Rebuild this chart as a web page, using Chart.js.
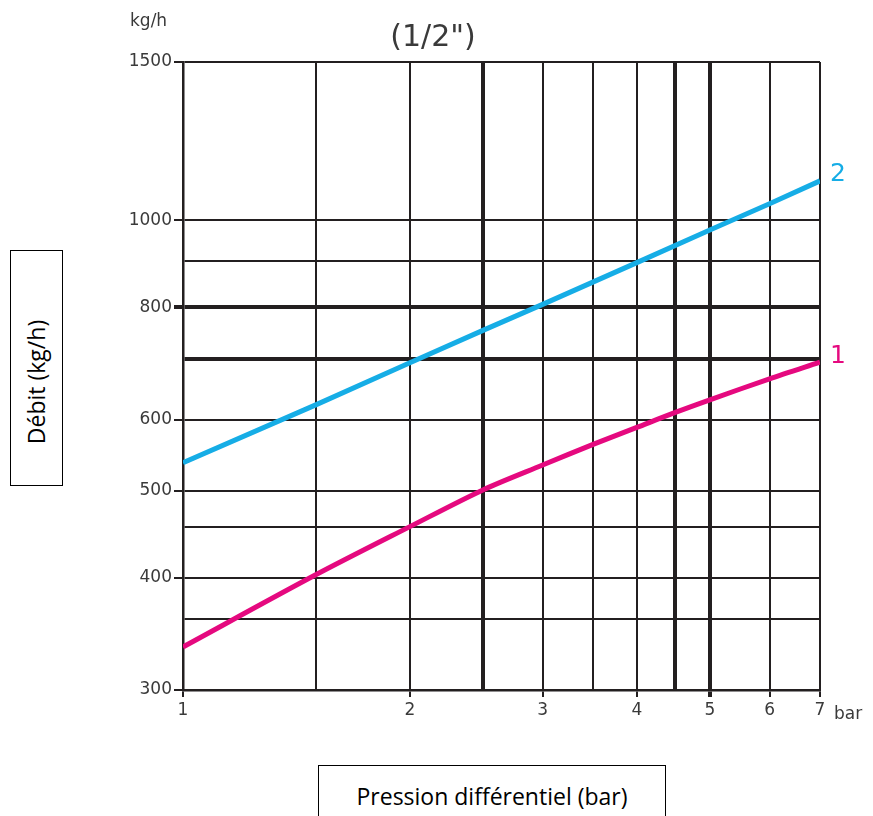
<!DOCTYPE html>
<html>
<head>
<meta charset="utf-8">
<script src="https://cdn.jsdelivr.net/npm/chart.js@4/dist/chart.umd.min.js"></script>
<style>
    body { margin: 0; background: #fff; }
    #wrap { position: relative; width: 873px; height: 816px; overflow: hidden; }
    #chart { position: absolute; left: 0; top: 0; }
    .axis-box {
        position: absolute;
        border: 1px solid #000;
        background: #fff;
        font-family: 'Open Sans', 'Noto Sans', sans-serif;
        color: #000;
        display: flex;
        align-items: center;
        justify-content: center;
    }
    #yBox { left: 10px; top: 250px; width: 51px; height: 234px; }
    #yBox span { transform: translateY(14px) rotate(-90deg); white-space: nowrap; font-size: 23px; }
    #xBox { left: 318px; top: 765px; width: 346px; height: 70px; align-items: flex-start; }
    #xBox span { margin-top: 14px; font-size: 23px; white-space: nowrap; }
</style>
</head>
<body>
<div id="wrap">
    <canvas id="chart" width="873" height="816"></canvas>
    <div class="axis-box" id="yBox"><span>Débit (kg/h)</span></div>
    <div class="axis-box" id="xBox"><span>Pression différentiel (bar)</span></div>
</div>
<script>
// Grid / tick values (log-log chart)
const pressureTicks = [1, 1.5, 2, 2.5, 3, 3.5, 4, 4.5, 5, 6, 7];
const pressureLabels = [1, 2, 3, 4, 5, 6, 7];
const flowTicks = [300, 360, 400, 455, 500, 600, 700, 800, 900, 1000, 1500];
const flowLabels = [300, 400, 500, 600, 800, 1000, 1500];

// Curve 1 (magenta)
const curve1Pressure = [1, 1.5, 2, 2.5, 3, 3.5, 4, 4.5, 5, 6, 7];
const curve1Flow = [335, 403, 456, 501, 534, 563, 588, 611, 631, 666, 695];

// Curve 2 (blue)
const curve2Pressure = [1, 1.5, 2, 2.5, 3, 4, 5, 6, 7];
const curve2Flow = [537, 623, 694, 754, 806, 897, 975, 1043, 1106];

const curveNames = ['1', '2'];

// styling
const boldPressure = [2.5, 4.5, 5];
const boldFlow = [700, 800];
const gridColor = '#231f20';
const textColor = '#3a3a3a';
const chartFont = "'DejaVu Sans', sans-serif";

/** Zips two arrays into {x, y} points. */
function toPoints(xs, ys) {
    return xs.map((x, i) => ({ x: x, y: ys[i] }));
}

// Draws units, title and the curve numbers
const annotations = {
    id: 'annotations',
    afterDraw(chart) {
        const ctx = chart.ctx;
        const area = chart.chartArea;
        ctx.save();
        ctx.fillStyle = textColor;
        ctx.textBaseline = 'alphabetic';
        ctx.font = '17px ' + chartFont;
        ctx.textAlign = 'left';
        ctx.fillText('kg/h', area.left - 53, area.top - 36);
        ctx.fillText('bar', area.right + 14, area.bottom + 29);
        ctx.font = '30px ' + chartFont;
        ctx.textAlign = 'center';
        ctx.fillText('(1/2")', area.left + 250, area.top - 16);
        // curve numbers at the last point of each line
        ctx.font = '25px ' + chartFont;
        ctx.textAlign = 'left';
        ctx.textBaseline = 'middle';
        chart.data.datasets.forEach((ds, i) => {
            const meta = chart.getDatasetMeta(i);
            const last = meta.data[meta.data.length - 1];
            ctx.fillStyle = ds.borderColor;
            ctx.fillText(curveNames[i], last.x + 10, last.y - 6);
        });
        ctx.restore();
    }
};

const chart = new Chart(document.getElementById('chart'), {
    type: 'line',
    data: {
        datasets: [{
            data: toPoints(curve1Pressure, curve1Flow),
            borderColor: '#e5097f',
            borderWidth: 5,
            pointRadius: 0,
            tension: 0.3,
            fill: false
        }, {
            data: toPoints(curve2Pressure, curve2Flow),
            borderColor: '#16ade6',
            borderWidth: 5,
            pointRadius: 0,
            tension: 0,
            fill: false
        }]
    },
    options: {
        responsive: false,
        animation: false,
        layout: {
            padding: { left: 123, right: 53, top: 62, bottom: 86 }
        },
        plugins: {
            legend: { display: false },
            tooltip: { enabled: false }
        },
        scales: {
            x: {
                type: 'logarithmic',
                min: 1,
                max: 7,
                afterBuildTicks: (scale) => {
                    scale.ticks = pressureTicks.map(v => ({ value: v }));
                },
                afterFit: (scale) => { scale.height = 40; },
                ticks: {
                    autoSkip: false,
                    maxRotation: 0,
                    padding: 3,
                    color: textColor,
                    font: { family: chartFont, size: 17 },
                    callback: (value) => pressureLabels.includes(value) ? String(value) : ''
                },
                grid: {
                    color: gridColor,
                    lineWidth: (ctx) => boldPressure.includes(ctx.tick && ctx.tick.value) ? 4 : 2,
                    tickLength: 7,
                    tickColor: (ctx) => pressureLabels.includes(ctx.tick && ctx.tick.value) ? gridColor : 'rgba(0,0,0,0)'
                },
                border: { display: true, color: gridColor, width: 2.5 }
            },
            y: {
                type: 'logarithmic',
                min: 300,
                max: 1500,
                afterBuildTicks: (scale) => {
                    scale.ticks = flowTicks.map(v => ({ value: v }));
                },
                afterFit: (scale) => { scale.width = 60; },
                ticks: {
                    autoSkip: false,
                    padding: 2,
                    color: textColor,
                    font: { family: chartFont, size: 17 },
                    callback: (value) => flowLabels.includes(value) ? String(value) : ''
                },
                grid: {
                    color: gridColor,
                    lineWidth: (ctx) => boldFlow.includes(ctx.tick && ctx.tick.value) ? 4 : 2,
                    tickLength: 9,
                    tickColor: (ctx) => flowLabels.includes(ctx.tick && ctx.tick.value) ? gridColor : 'rgba(0,0,0,0)'
                },
                border: { display: true, color: gridColor, width: 2.5 }
            }
        }
    },
    plugins: [annotations]
});
</script>
</body>
</html>
